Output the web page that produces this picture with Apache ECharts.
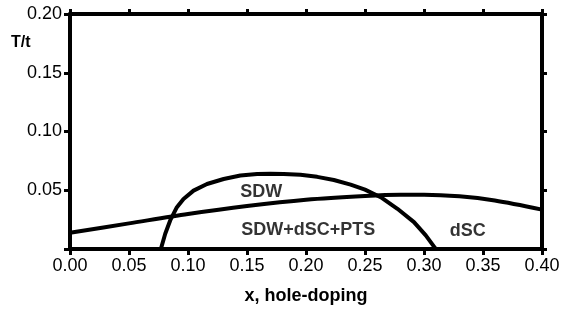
<!DOCTYPE html>
<html>
<head>
<meta charset="utf-8">
<script src="https://cdn.jsdelivr.net/npm/echarts@6/dist/echarts.min.js"></script>
<style>
html,body{margin:0;padding:0;background:#fff;}
#c{width:567px;height:310px;}
</style>
</head>
<body>
<div id="c"></div>
<script>
// dSC transition line T/t vs x
const lineX = [0.00, 0.05, 0.10, 0.15, 0.20, 0.25, 0.28, 0.30, 0.33, 0.36, 0.40];
const lineT = [0.0138, 0.0218, 0.0298, 0.0366, 0.0420, 0.0452, 0.0462, 0.0462, 0.0448, 0.0412, 0.0335];
// SDW dome
const domeX = [0.0770, 0.0807, 0.0849, 0.0906, 0.0962, 0.1047, 0.1161, 0.1302, 0.1444, 0.1586, 0.1700, 0.1811, 0.1953, 0.2095, 0.2236, 0.2378, 0.2500, 0.2633, 0.2775, 0.2915, 0.3015, 0.3085, 0.3100];
const domeT = [0.0000, 0.0130, 0.0243, 0.0356, 0.0426, 0.0497, 0.0553, 0.0596, 0.0625, 0.0638, 0.0641, 0.0638, 0.0631, 0.0614, 0.0587, 0.0548, 0.0505, 0.0441, 0.0342, 0.0229, 0.0116, 0.0020, 0.0000];
// region labels
const labelText = ['SDW', 'SDW+dSC+PTS', 'dSC'];
const labelX = [0.162, 0.202, 0.337];
const labelT = [0.0483, 0.0161, 0.0153];
const xTickLabels = ['0.00','0.05','0.10','0.15','0.20','0.25','0.30','0.35','0.40'];
const yTickLabels = ['', '0.05', '0.10', '0.15', '0.20'];

const FONT = 'Liberation Sans, Arial, Helvetica, sans-serif';
const zip = (a, b) => a.map((v, i) => [v, b[i]]);

const axisLineStyle = {color: '#000', width: 4};
const chart = echarts.init(document.getElementById('c'));
chart.setOption({
  animation: false,
  backgroundColor: '#fff',
  grid: {left: 70, right: 25, top: 14, bottom: 60, containLabel: false},
  xAxis: [{
    type: 'value', min: 0, max: 0.4, interval: 0.05, position: 'bottom',
    name: 'x, hole-doping', nameLocation: 'middle', nameGap: 38,
    nameTextStyle: {fontFamily: FONT, fontSize: 18, fontWeight: 'bold', color: '#000'},
    axisLine: {show: true, onZero: false, lineStyle: axisLineStyle},
    axisTick: {show: true, inside: false, length: 6, lineStyle: {color: '#000', width: 3}},
    axisLabel: {margin: 8, fontFamily: FONT, fontSize: 18, color: '#000',
      formatter: (v) => xTickLabels[Math.round(v / 0.05)]},
    splitLine: {show: false}
  }, {
    type: 'value', min: 0, max: 0.4, interval: 0.05, position: 'top',
    axisLine: {show: true, onZero: false, lineStyle: axisLineStyle},
    axisTick: {show: true, inside: false, length: 5, lineStyle: {color: '#000', width: 3}},
    axisLabel: {show: false}, splitLine: {show: false}
  }],
  yAxis: [{
    type: 'value', min: 0, max: 0.2, interval: 0.05, position: 'left',
    axisLine: {show: true, onZero: false, lineStyle: axisLineStyle},
    axisTick: {show: true, inside: false, length: 6, lineStyle: {color: '#000', width: 3}},
    axisLabel: {margin: 8, fontFamily: FONT, fontSize: 18, color: '#000',
      formatter: (v) => yTickLabels[Math.round(v / 0.05)]},
    splitLine: {show: false}
  }, {
    type: 'value', min: 0, max: 0.2, interval: 0.05, position: 'right',
    axisLine: {show: true, onZero: false, lineStyle: axisLineStyle},
    axisTick: {show: true, inside: false, length: 5, lineStyle: {color: '#000', width: 3}},
    axisLabel: {show: false}, splitLine: {show: false}
  }],
  graphic: [{
    type: 'text', left: 11, top: 35,
    style: {text: 'T/t', font: 'bold 16px ' + FONT, fill: '#000'}
  }],
  series: [{
    type: 'line', data: zip(lineX, lineT), smooth: 0.3, symbol: 'none',
    lineStyle: {color: '#000', width: 4, join: 'round'}, z: 3
  }, {
    type: 'line', data: zip(domeX, domeT), smooth: false, symbol: 'none',
    lineStyle: {color: '#000', width: 4, join: 'round'}, z: 3
  }, {
    type: 'scatter', symbolSize: 0, data: zip(labelX, labelT).map((p, i) => ({value: p, name: labelText[i]})),
    label: {show: true, position: 'inside', formatter: (p) => p.name,
      fontFamily: FONT, fontSize: 18, fontWeight: 'bold', color: '#000'},
    silent: true, z: 4
  }]
});
</script>
</body>
</html>
